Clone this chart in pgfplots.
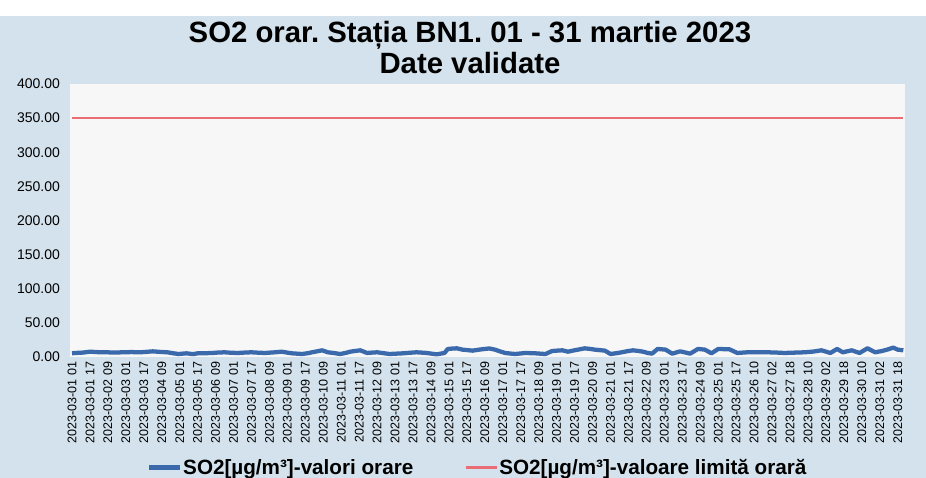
\documentclass[border=0pt]{standalone}
\usepackage{pgfplots}
\pgfplotsset{compat=1.18}
\usepackage{fontspec}
\setmainfont{Liberation Sans}
\frenchspacing

\definecolor{panelbg}{RGB}{211,226,236}
\definecolor{plotbg}{RGB}{247,247,247}
\definecolor{so2blue}{RGB}{58,106,172}
\definecolor{limred}{RGB}{234,108,116}

\begin{document}
\begin{tikzpicture}
% page and chart panel (926x478 px, 1 px = 0.75 pt)
\path[use as bounding box] (0,0) rectangle (694.5pt,-358.5pt);
\fill[panelbg] (0,-12pt) rectangle (694.5pt,-358.5pt);

\node[font=\fontsize{22}{26}\selectfont\bfseries] at (352.5pt,-26.5pt) {SO2 orar. Stația BN1. 01 - 31 martie 2023};
\node[font=\fontsize{22}{26}\selectfont\bfseries] at (352.5pt,-47.5pt) {Date validate};

\begin{axis}[
    at={(52.5pt,-63pt)}, anchor=north west,
    scale only axis,
    width=626.25pt, height=204.75pt,
    axis background/.style={fill=plotbg},
    axis line style={draw=none},
    tick style={draw=none},
    xmin=-1.8, xmax=742.5,
    ymin=0, ymax=400,
    ytick={0,50,...,400},
    yticklabel style={
        font=\fontsize{10.5}{12}\selectfont, xshift=-4pt,
        /pgf/number format/.cd, fixed, fixed zerofill, precision=2,
        assume math mode=true},
    xtick={0,16,...,736},
    xticklabels={
        2023-03-01 01,2023-03-01 17,2023-03-02 09,2023-03-03 01,2023-03-03 17,
        2023-03-04 09,2023-03-05 01,2023-03-05 17,2023-03-06 09,2023-03-07 01,
        2023-03-07 17,2023-03-08 09,2023-03-09 01,2023-03-09 17,2023-03-10 09,
        2023-03-11 01,2023-03-11 17,2023-03-12 09,2023-03-13 01,2023-03-13 17,
        2023-03-14 09,2023-03-15 01,2023-03-15 17,2023-03-16 09,2023-03-17 01,
        2023-03-17 17,2023-03-18 09,2023-03-19 01,2023-03-19 17,2023-03-20 09,
        2023-03-21 01,2023-03-21 17,2023-03-22 09,2023-03-23 01,2023-03-23 17,
        2023-03-24 09,2023-03-25 01,2023-03-25 17,2023-03-26 10,2023-03-27 02,
        2023-03-27 18,2023-03-28 10,2023-03-29 02,2023-03-29 18,2023-03-30 10,
        2023-03-31 02,2023-03-31 18},
    xticklabel style={font=\fontsize{9.4}{11}\selectfont, rotate=90, anchor=east},
    legend columns=2,
    legend style={
        at={(0.488,-0.405)}, anchor=center,
        draw=none, fill=none,
        font=\fontsize{15.5}{17}\selectfont\bfseries,
        /tikz/every even column/.append style={column sep=38pt},
        nodes={inner sep=1pt}},
    legend image code/.code={\draw[#1] (0cm,0cm) -- (0.8cm,0cm);},
]

\addplot[color=so2blue, line width=3.2pt, line join=round] coordinates {
    (0,5.5)(3,5.9)(10,6.5)(16,7.8)(24,7)(31,6.9)(38,6.5)(45,6.9)(53,7.2)(61,6.9)
    (66,7.5)(72,8.3)(78,7.5)(85,6.9)(90,5.5)(95,4.4)(102,5.4)(108,4.2)(112,5.4)(118,5.5)
    (125,5.9)(130,6.5)(136,6.9)(142,6.2)(148,5.9)(154,6.5)(160,6.9)(166,6.3)(172,5.9)(180,6.8)
    (187,7.8)(192,6.4)(196,5.4)(205,4.4)(210,5.5)(214,6.9)(219,8.5)(223,9.8)(228,6.9)(233,5.9)
    (239,4.4)(244,6)(248,7.8)(253,9)(257,9.8)(263,5.9)(268,6.5)(272,6.9)(278,5.5)(283,4.4)
    (289,4.9)(295,5.4)(301,6.2)(307,6.9)(312,6.4)(316,5.9)(321,4.8)(325,3.9)(332,5.9)(335,11.8)
    (340,12.5)(343,12.7)(348,10.8)(353,10)(357,9.3)(363,10.8)(368,11.8)(372,12.5)(377,10.8)(381,8.5)
    (386,5.9)(391,5)(395,4.4)(400,5.2)(404,5.9)(409,5.6)(413,5.4)(418,4.8)(422,4.4)(428,8.8)
    (433,9.4)(437,9.8)(442,7.8)(447,9.5)(451,10.8)(457,12.7)(462,11.8)(466,10.8)(471,10)(475,9.3)
    (480,4.4)(485,5.5)(490,6.9)(495,8.5)(500,9.8)(505,8.8)(509,7.8)(513,6)(517,4.9)(522,11.8)
    (529,10.8)(535,4.9)(542,8.3)(547,6.5)(551,4.9)(558,11.8)(564,10.8)(570,5.4)(576,11.8)(581,11.5)
    (586,11.3)(593,5.9)(602,6.9)(613,6.9)(620,6.9)(628,6.5)(635,5.9)(644,6.4)(653,6.9)(661,8)
    (668,9.8)(676,5.9)(682,11.8)(687,6.9)(695,9.8)(702,5.9)(709,12.7)(716,6.9)(722,8.8)(727,11)
    (732,13.7)(736,10.8)(741,9.8)
};
\addplot[color=limred, line width=1.7pt] coordinates {(0,350)(741,350)};

\legend{SO2[µg/m³]-valori orare, SO2[µg/m³]-valoare limită orară}
\end{axis}
\end{tikzpicture}
\end{document}
